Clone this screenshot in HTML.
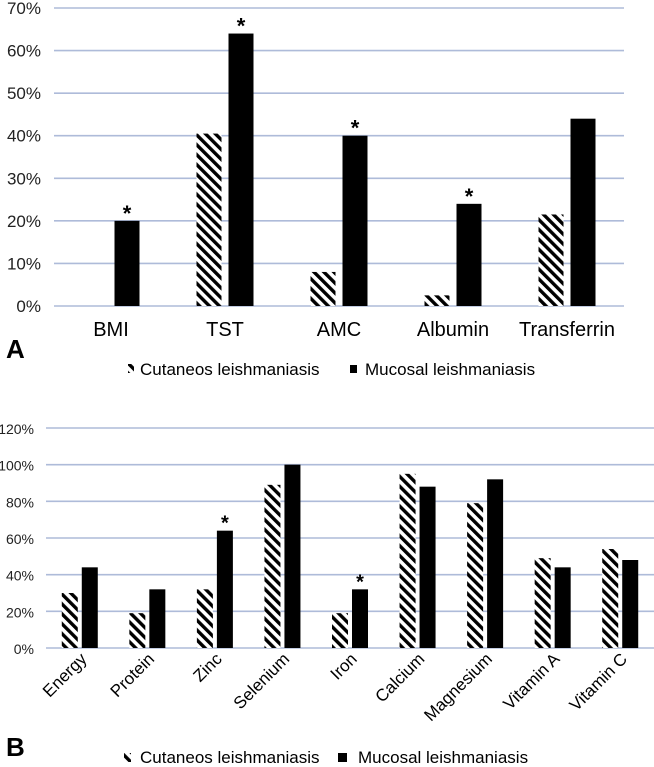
<!DOCTYPE html>
<html><head><meta charset="utf-8"><style>
html,body{margin:0;padding:0;background:#fff;}
svg{display:block;font-family:"Liberation Sans",sans-serif;}
</style></head><body>
<svg id="chart" width="654" height="767" viewBox="0 0 654 767" xmlns="http://www.w3.org/2000/svg">
<defs>
<pattern id="hatch" patternUnits="userSpaceOnUse" width="7" height="7" patternTransform="rotate(-45)">
<rect width="7" height="7" fill="#fff"/><rect x="0" y="0" width="3.4" height="7" fill="#000"/>
</pattern>
</defs>
<g id="A"></g>
<g id="B"></g>
<text x="6" y="358" font-size="26" font-weight="bold">A</text>
<text x="6" y="756" font-size="26" font-weight="bold">B</text>
<g>
<rect x="128" y="364" width="6" height="9" fill="url(#hatch)"/>
<text x="140" y="375" font-size="17">Cutaneos leishmaniasis</text>
<rect x="350" y="365" width="7" height="8" fill="#000"/>
<text x="365" y="375" font-size="17">Mucosal leishmaniasis</text>
</g>
<g>
<rect x="124" y="753" width="7" height="9" fill="url(#hatch)"/>
<text x="140" y="763" font-size="17">Cutaneos leishmaniasis</text>
<rect x="338" y="753" width="9" height="9" fill="#000"/>
<text x="358" y="763" font-size="17">Mucosal leishmaniasis</text>
</g>
</svg>
<script>
const catsA = ["BMI","TST","AMC","Albumin","Transferrin"];
const cutA = [0,40.5,8,2.5,21.5];
const mucA = [20,64,40,24,44];
const starA = [true,true,true,true,false];
const ticksA = [0,10,20,30,40,50,60,70];

const catsB = ["Energy","Protein","Zinc","Selenium","Iron","Calcium","Magnesium","Vitamin A","Vitamin C"];
const cutB = [30,19,32,89,19,95,79,49,54];
const mucB = [44,32,64,100,32,88,92,44,48];
const starB = [false,false,true,false,true,false,false,false,false];
const ticksB = [0,20,40,60,80,100,120];

const NS="http://www.w3.org/2000/svg";
function mk(parent,tag,attrs){const e=document.createElementNS(NS,tag);for(const k in attrs)e.setAttribute(k,attrs[k]);parent.appendChild(e);return e;}

function draw(g,o){
  const y=v=>o.y0-(v/o.vmax)*(o.y0-o.y1);
  const band=(o.x1-o.x0)/o.cats.length;
  const x=i=>o.x0+band*(i+0.5);
  o.ticks.forEach(t=>{
    const l=mk(g,'line',{x1:o.x0,x2:o.x1,y1:y(t),y2:y(t),stroke:'#aebbd9','stroke-width':1.6});
    
    
    const tx=mk(g,'text',{x:o.tx,y:y(t)+6,'font-size':o.tfs,'text-anchor':'end',fill:'#222'});
    tx.textContent=t+'%';
    
    
  });
  o.cats.forEach((c,i)=>{
    const cx=x(i);
    if(o.cut[i]>0){
      const r=mk(g,'rect',{x:cx-o.off-o.bw/2,y:y(o.cut[i]),width:o.bw,height:o.y0-y(o.cut[i]),fill:'url(#hatch)'});
      
      
    }
    const m=mk(g,'rect',{x:cx+o.off-o.bw/2,y:y(o.muc[i]),width:o.bw,height:o.y0-y(o.muc[i]),fill:'#000'});
    
    
    if(o.star[i]){
      const s=mk(g,'text',{x:cx+o.off,y:y(o.muc[i])+o.sdy,'font-size':o.sfs,'font-weight':'bold','text-anchor':'middle'});
      s.textContent='*';
      
      
    }
    let lab;
    if(o.rot){
      lab=mk(g,'text',{x:cx+8,y:o.ly,'font-size':o.lfs,'text-anchor':'end',transform:`rotate(-45 ${cx+8} ${o.ly})`});
    } else {
      lab=mk(g,'text',{x:cx,y:o.ly,'font-size':o.lfs,'text-anchor':'middle'});
    }
    lab.textContent=c;
    
    
  });
}
draw(document.getElementById('A'),{cats:catsA,cut:cutA,muc:mucA,star:starA,ticks:ticksA,vmax:70,
  x0:54,x1:624,y0:306,y1:8,bw:25,off:16,tx:41,tfs:17,lfs:20,ly:336,rot:false,sdy:0,sfs:22});
draw(document.getElementById('B'),{cats:catsB,cut:cutB,muc:mucB,star:starB,ticks:ticksB,vmax:120,
  x0:46,x1:654,y0:648,y1:428,bw:16,off:10,tx:34,tfs:14,lfs:17,ly:660,rot:true,sdy:-1,sfs:20});
</script>
</body></html>
